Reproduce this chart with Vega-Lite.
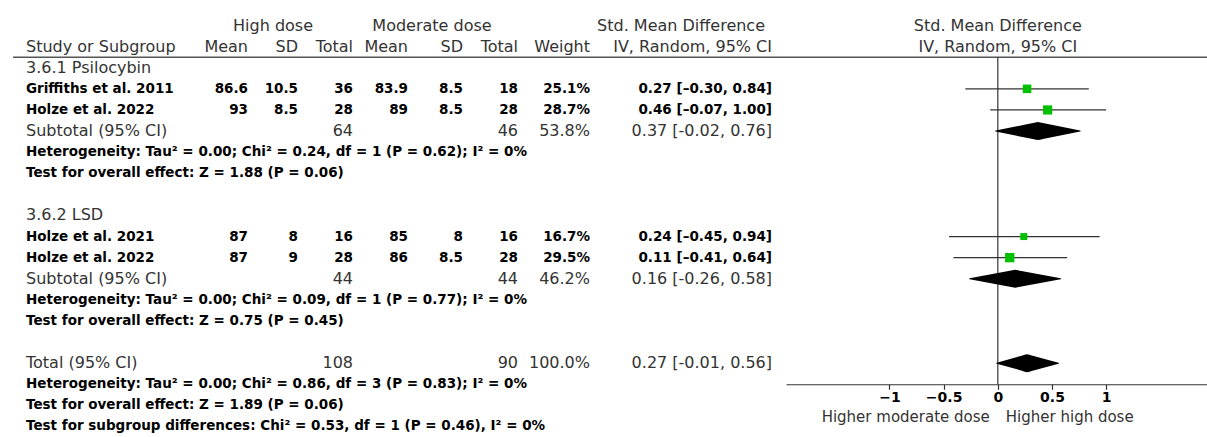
{
"$schema": "https://vega.github.io/schema/vega-lite/v6.json",
"padding": {"left": 12, "top": 15, "right": 0, "bottom": 0},
"spacing": 0,
"bounds": "flush",
"data": {"values": [
{"id":"h1","kind":"head1","hs":"High dose","ms":"Moderate dose","ci":"Std. Mean Difference","fh":"Std. Mean Difference"},
{"id":"h2","kind":"head2","study":"Study or Subgroup","hm":"Mean","hs":"SD","hn":"Total","mm":"Mean","ms":"SD","mn":"Total","w":"Weight","ci":"IV, Random, 95% CI","fh":"IV, Random, 95% CI"},
{"id":"r00","kind":"section","study":"3.6.1 Psilocybin"},
{"id":"r01","kind":"study","study":"Griffiths et al. 2011","hm":"86.6","hs":"10.5","hn":"36","mm":"83.9","ms":"8.5","mn":"18","w":"25.1%","ci":"0.27 [–0.30, 0.84]","est":0.27,"lo":-0.30,"hi":0.84,"wt":25.1},
{"id":"r02","kind":"study","study":"Holze et al. 2022","hm":"93","hs":"8.5","hn":"28","mm":"89","ms":"8.5","mn":"28","w":"28.7%","ci":"0.46 [–0.07, 1.00]","est":0.46,"lo":-0.07,"hi":1.00,"wt":28.7},
{"id":"r03","kind":"sub","study":"Subtotal (95% CI)","hn":"64","mn":"46","w":"53.8%","ci":"0.37 [-0.02, 0.76]","est":0.37,"lo":-0.02,"hi":0.76},
{"id":"r04","kind":"stat","study":"Heterogeneity: Tau² = 0.00; Chi² = 0.24, df = 1 (P = 0.62); I² = 0%"},
{"id":"r05","kind":"stat","study":"Test for overall effect: Z = 1.88 (P = 0.06)"},
{"id":"r07","kind":"section","study":"3.6.2 LSD"},
{"id":"r08","kind":"study","study":"Holze et al. 2021","hm":"87","hs":"8","hn":"16","mm":"85","ms":"8","mn":"16","w":"16.7%","ci":"0.24 [–0.45, 0.94]","est":0.24,"lo":-0.45,"hi":0.94,"wt":16.7},
{"id":"r09","kind":"study","study":"Holze et al. 2022","hm":"87","hs":"9","hn":"28","mm":"86","ms":"8.5","mn":"28","w":"29.5%","ci":"0.11 [–0.41, 0.64]","est":0.11,"lo":-0.41,"hi":0.64,"wt":29.5},
{"id":"r10","kind":"sub","study":"Subtotal (95% CI)","hn":"44","mn":"44","w":"46.2%","ci":"0.16 [-0.26, 0.58]","est":0.16,"lo":-0.26,"hi":0.58},
{"id":"r11","kind":"stat","study":"Heterogeneity: Tau² = 0.00; Chi² = 0.09, df = 1 (P = 0.77); I² = 0%"},
{"id":"r12","kind":"stat","study":"Test for overall effect: Z = 0.75 (P = 0.45)"},
{"id":"r14","kind":"sub","study":"Total (95% CI)","hn":"108","mn":"90","w":"100.0%","ci":"0.27 [-0.01, 0.56]","est":0.27,"lo":-0.01,"hi":0.56},
{"id":"r15","kind":"stat","study":"Heterogeneity: Tau² = 0.00; Chi² = 0.86, df = 3 (P = 0.83); I² = 0%"},
{"id":"r16","kind":"stat","study":"Test for overall effect: Z = 1.89 (P = 0.06)","dl":"Higher moderate dose","dr":"Higher high dose"},
{"id":"r17","kind":"stat","study":"Test for subgroup differences: Chi² = 0.53, df = 1 (P = 0.46), I² = 0%"}
]},
"hconcat": [
{"width":168,"height":422,"encoding":{"y":{"field":"id","type":"nominal","axis":null,"scale":{"domain":["h1","h2","r00","r01","r02","r03","r04","r05","r06","r07","r08","r09","r10","r11","r12","r13","r14","r15","r16","r17"],"paddingInner":0,"paddingOuter":0}}},
 "layer":[
  {"transform":[{"filter":"datum.id=='h1'"}],"mark":{"type":"rule","color":"#555","strokeWidth":1.5},"encoding":{"y":{"datum":"r00","type":"nominal","bandPosition":0}}},
  {"transform":[{"filter":"(datum.kind=='study'||datum.kind=='stat') && isValid(datum.study)"}],"mark":{"type":"text","font":"DejaVu Sans","fontWeight":"bold","fontSize":13.5,"color":"#000","align":"left","baseline":"middle","dx":13},"encoding":{"x":{"value":0},"text":{"field":"study"}}},
  {"transform":[{"filter":"(datum.kind=='head2'||datum.kind=='sub'||datum.kind=='section') && isValid(datum.study)"}],"mark":{"type":"text","font":"DejaVu Sans","fontSize":16,"color":"#333","align":"left","baseline":"middle","dx":13},"encoding":{"x":{"value":0},"text":{"field":"study"}}}
 ]},
{"width":67,"height":422,"encoding":{"y":{"field":"id","type":"nominal","axis":null,"scale":{"domain":["h1","h2","r00","r01","r02","r03","r04","r05","r06","r07","r08","r09","r10","r11","r12","r13","r14","r15","r16","r17"],"paddingInner":0,"paddingOuter":0}}},
 "layer":[
  {"transform":[{"filter":"datum.id=='h1'"}],"mark":{"type":"rule","color":"#555","strokeWidth":1.5},"encoding":{"y":{"datum":"r00","type":"nominal","bandPosition":0}}},
  {"transform":[{"filter":"(datum.kind=='study'||datum.kind=='stat') && isValid(datum.hm)"}],"mark":{"type":"text","font":"DejaVu Sans","fontWeight":"bold","fontSize":13.5,"color":"#000","align":"right","baseline":"middle"},"encoding":{"x":{"value":"width"},"text":{"field":"hm"}}},
  {"transform":[{"filter":"(datum.kind=='head2'||datum.kind=='sub'||datum.kind=='section') && isValid(datum.hm)"}],"mark":{"type":"text","font":"DejaVu Sans","fontSize":16,"color":"#333","align":"right","baseline":"middle"},"encoding":{"x":{"value":"width"},"text":{"field":"hm"}}}
 ]},
{"width":50,"height":422,"encoding":{"y":{"field":"id","type":"nominal","axis":null,"scale":{"domain":["h1","h2","r00","r01","r02","r03","r04","r05","r06","r07","r08","r09","r10","r11","r12","r13","r14","r15","r16","r17"],"paddingInner":0,"paddingOuter":0}}},
 "layer":[
  {"transform":[{"filter":"datum.id=='h1'"}],"mark":{"type":"rule","color":"#555","strokeWidth":1.5},"encoding":{"y":{"datum":"r00","type":"nominal","bandPosition":0}}},
  {"transform":[{"filter":"(datum.kind=='study'||datum.kind=='stat') && isValid(datum.hs)"}],"mark":{"type":"text","font":"DejaVu Sans","fontWeight":"bold","fontSize":13.5,"color":"#000","align":"right","baseline":"middle"},"encoding":{"x":{"value":"width"},"text":{"field":"hs"}}},
  {"transform":[{"filter":"(datum.kind=='head2'||datum.kind=='sub'||datum.kind=='section') && isValid(datum.hs)"}],"mark":{"type":"text","font":"DejaVu Sans","fontSize":16,"color":"#333","align":"right","baseline":"middle"},"encoding":{"x":{"value":"width"},"text":{"field":"hs"}}},
  {"transform":[{"filter":"datum.kind=='head1' && isValid(datum.hs)"}],"mark":{"type":"text","font":"DejaVu Sans","fontSize":16,"color":"#333","align":"center","baseline":"middle","dx":-25},"encoding":{"x":{"value":"width"},"text":{"field":"hs"}}}
 ]},
{"width":55,"height":422,"encoding":{"y":{"field":"id","type":"nominal","axis":null,"scale":{"domain":["h1","h2","r00","r01","r02","r03","r04","r05","r06","r07","r08","r09","r10","r11","r12","r13","r14","r15","r16","r17"],"paddingInner":0,"paddingOuter":0}}},
 "layer":[
  {"transform":[{"filter":"datum.id=='h1'"}],"mark":{"type":"rule","color":"#555","strokeWidth":1.5},"encoding":{"y":{"datum":"r00","type":"nominal","bandPosition":0}}},
  {"transform":[{"filter":"(datum.kind=='study'||datum.kind=='stat') && isValid(datum.hn)"}],"mark":{"type":"text","font":"DejaVu Sans","fontWeight":"bold","fontSize":13.5,"color":"#000","align":"right","baseline":"middle"},"encoding":{"x":{"value":"width"},"text":{"field":"hn"}}},
  {"transform":[{"filter":"(datum.kind=='head2'||datum.kind=='sub'||datum.kind=='section') && isValid(datum.hn)"}],"mark":{"type":"text","font":"DejaVu Sans","fontSize":16,"color":"#333","align":"right","baseline":"middle"},"encoding":{"x":{"value":"width"},"text":{"field":"hn"}}}
 ]},
{"width":55,"height":422,"encoding":{"y":{"field":"id","type":"nominal","axis":null,"scale":{"domain":["h1","h2","r00","r01","r02","r03","r04","r05","r06","r07","r08","r09","r10","r11","r12","r13","r14","r15","r16","r17"],"paddingInner":0,"paddingOuter":0}}},
 "layer":[
  {"transform":[{"filter":"datum.id=='h1'"}],"mark":{"type":"rule","color":"#555","strokeWidth":1.5},"encoding":{"y":{"datum":"r00","type":"nominal","bandPosition":0}}},
  {"transform":[{"filter":"(datum.kind=='study'||datum.kind=='stat') && isValid(datum.mm)"}],"mark":{"type":"text","font":"DejaVu Sans","fontWeight":"bold","fontSize":13.5,"color":"#000","align":"right","baseline":"middle"},"encoding":{"x":{"value":"width"},"text":{"field":"mm"}}},
  {"transform":[{"filter":"(datum.kind=='head2'||datum.kind=='sub'||datum.kind=='section') && isValid(datum.mm)"}],"mark":{"type":"text","font":"DejaVu Sans","fontSize":16,"color":"#333","align":"right","baseline":"middle"},"encoding":{"x":{"value":"width"},"text":{"field":"mm"}}}
 ]},
{"width":55,"height":422,"encoding":{"y":{"field":"id","type":"nominal","axis":null,"scale":{"domain":["h1","h2","r00","r01","r02","r03","r04","r05","r06","r07","r08","r09","r10","r11","r12","r13","r14","r15","r16","r17"],"paddingInner":0,"paddingOuter":0}}},
 "layer":[
  {"transform":[{"filter":"datum.id=='h1'"}],"mark":{"type":"rule","color":"#555","strokeWidth":1.5},"encoding":{"y":{"datum":"r00","type":"nominal","bandPosition":0}}},
  {"transform":[{"filter":"(datum.kind=='study'||datum.kind=='stat') && isValid(datum.ms)"}],"mark":{"type":"text","font":"DejaVu Sans","fontWeight":"bold","fontSize":13.5,"color":"#000","align":"right","baseline":"middle"},"encoding":{"x":{"value":"width"},"text":{"field":"ms"}}},
  {"transform":[{"filter":"(datum.kind=='head2'||datum.kind=='sub'||datum.kind=='section') && isValid(datum.ms)"}],"mark":{"type":"text","font":"DejaVu Sans","fontSize":16,"color":"#333","align":"right","baseline":"middle"},"encoding":{"x":{"value":"width"},"text":{"field":"ms"}}},
  {"transform":[{"filter":"datum.kind=='head1' && isValid(datum.ms)"}],"mark":{"type":"text","font":"DejaVu Sans","fontSize":16,"color":"#333","align":"center","baseline":"middle","dx":-31},"encoding":{"x":{"value":"width"},"text":{"field":"ms"}}}
 ]},
{"width":55,"height":422,"encoding":{"y":{"field":"id","type":"nominal","axis":null,"scale":{"domain":["h1","h2","r00","r01","r02","r03","r04","r05","r06","r07","r08","r09","r10","r11","r12","r13","r14","r15","r16","r17"],"paddingInner":0,"paddingOuter":0}}},
 "layer":[
  {"transform":[{"filter":"datum.id=='h1'"}],"mark":{"type":"rule","color":"#555","strokeWidth":1.5},"encoding":{"y":{"datum":"r00","type":"nominal","bandPosition":0}}},
  {"transform":[{"filter":"(datum.kind=='study'||datum.kind=='stat') && isValid(datum.mn)"}],"mark":{"type":"text","font":"DejaVu Sans","fontWeight":"bold","fontSize":13.5,"color":"#000","align":"right","baseline":"middle"},"encoding":{"x":{"value":"width"},"text":{"field":"mn"}}},
  {"transform":[{"filter":"(datum.kind=='head2'||datum.kind=='sub'||datum.kind=='section') && isValid(datum.mn)"}],"mark":{"type":"text","font":"DejaVu Sans","fontSize":16,"color":"#333","align":"right","baseline":"middle"},"encoding":{"x":{"value":"width"},"text":{"field":"mn"}}}
 ]},
{"width":72,"height":422,"encoding":{"y":{"field":"id","type":"nominal","axis":null,"scale":{"domain":["h1","h2","r00","r01","r02","r03","r04","r05","r06","r07","r08","r09","r10","r11","r12","r13","r14","r15","r16","r17"],"paddingInner":0,"paddingOuter":0}}},
 "layer":[
  {"transform":[{"filter":"datum.id=='h1'"}],"mark":{"type":"rule","color":"#555","strokeWidth":1.5},"encoding":{"y":{"datum":"r00","type":"nominal","bandPosition":0}}},
  {"transform":[{"filter":"(datum.kind=='study'||datum.kind=='stat') && isValid(datum.w)"}],"mark":{"type":"text","font":"DejaVu Sans","fontWeight":"bold","fontSize":13.5,"color":"#000","align":"right","baseline":"middle"},"encoding":{"x":{"value":"width"},"text":{"field":"w"}}},
  {"transform":[{"filter":"(datum.kind=='head2'||datum.kind=='sub'||datum.kind=='section') && isValid(datum.w)"}],"mark":{"type":"text","font":"DejaVu Sans","fontSize":16,"color":"#333","align":"right","baseline":"middle"},"encoding":{"x":{"value":"width"},"text":{"field":"w"}}}
 ]},
{"width":196,"height":422,"encoding":{"y":{"field":"id","type":"nominal","axis":null,"scale":{"domain":["h1","h2","r00","r01","r02","r03","r04","r05","r06","r07","r08","r09","r10","r11","r12","r13","r14","r15","r16","r17"],"paddingInner":0,"paddingOuter":0}}},
 "layer":[
  {"transform":[{"filter":"datum.id=='h1'"}],"mark":{"type":"rule","color":"#555","strokeWidth":1.5},"encoding":{"y":{"datum":"r00","type":"nominal","bandPosition":0}}},
  {"transform":[{"filter":"(datum.kind=='study'||datum.kind=='stat') && isValid(datum.ci)"}],"mark":{"type":"text","font":"DejaVu Sans","fontWeight":"bold","fontSize":13.5,"color":"#000","align":"right","baseline":"middle","dx":-14},"encoding":{"x":{"value":"width"},"text":{"field":"ci"}}},
  {"transform":[{"filter":"(datum.kind=='head2'||datum.kind=='sub'||datum.kind=='section') && isValid(datum.ci)"}],"mark":{"type":"text","font":"DejaVu Sans","fontSize":16,"color":"#333","align":"right","baseline":"middle","dx":-14},"encoding":{"x":{"value":"width"},"text":{"field":"ci"}}},
  {"transform":[{"filter":"datum.kind=='head1' && isValid(datum.ci)"}],"mark":{"type":"text","font":"DejaVu Sans","fontSize":16,"color":"#333","align":"right","baseline":"middle","dx":-21},"encoding":{"x":{"value":"width"},"text":{"field":"ci"}}}
 ]},
{"width":422,"height":422,"resolve":{"scale":{"size":"independent"}},
 "encoding":{"y":{"field":"id","type":"nominal","axis":null,"scale":{"domain":["h1","h2","r00","r01","r02","r03","r04","r05","r06","r07","r08","r09","r10","r11","r12","r13","r14","r15","r16","r17"],"paddingInner":0,"paddingOuter":0}}},
 "layer":[
  {"transform":[{"filter":"datum.id=='h1'"}],"mark":{"type":"rule","color":"#555","strokeWidth":1.5},"encoding":{"y":{"datum":"r00","type":"nominal","bandPosition":0}}},
  {"transform":[{"filter":"datum.id=='h1'"}],"mark":{"type":"rule","color":"#333","strokeWidth":1.2},"encoding":{"x":{"datum":0,"type":"quantitative","scale":{"domain":[-1.955,1.94],"nice":false,"zero":false},"axis":{"values":[-1,-0.5,0,0.5,1],"format":"~g","title":null,"offset":-52.75}},"y":{"datum":"r00","type":"nominal","bandPosition":0},"y2":{"datum":"r15","bandPosition":0.5}}},
  {"transform":[{"filter":"datum.kind=='study'"}],"mark":{"type":"rule","color":"#333","strokeWidth":1.2},"encoding":{"x":{"field":"lo","type":"quantitative","scale":{"domain":[-1.955,1.94],"nice":false,"zero":false},"axis":{"values":[-1,-0.5,0,0.5,1],"format":"~g","title":null,"offset":-52.75}},"x2":{"field":"hi"}}},
  {"transform":[{"filter":"datum.kind=='study'"}],"mark":{"type":"square","filled":true,"color":"#00c000","opacity":1},"encoding":{"x":{"field":"est","type":"quantitative","scale":{"domain":[-1.955,1.94],"nice":false,"zero":false},"axis":{"values":[-1,-0.5,0,0.5,1],"format":"~g","title":null,"offset":-52.75}},"size":{"field":"wt","type":"quantitative","scale":{"domain":[0,30],"range":[0,88]},"legend":null}}},
  {"transform":[{"filter":"datum.kind=='sub'"},{"fold":["lo","est","hi"],"as":["part","xv"]}],"mark":{"type":"trail","color":"#000"},"encoding":{"x":{"field":"xv","type":"quantitative","scale":{"domain":[-1.955,1.94],"nice":false,"zero":false},"axis":{"values":[-1,-0.5,0,0.5,1],"format":"~g","title":null,"offset":-52.75}},"detail":{"field":"id","type":"nominal"},"order":{"field":"xv","type":"quantitative"},"size":{"field":"part","type":"ordinal","scale":{"type":"ordinal","domain":["lo","est","hi"],"range":[0,18,0]},"legend":null}}},
  {"transform":[{"filter":"isValid(datum.fh)"}],"mark":{"type":"text","font":"DejaVu Sans","fontSize":16,"color":"#333","align":"center","baseline":"middle"},"encoding":{"x":{"datum":0,"type":"quantitative","scale":{"domain":[-1.955,1.94],"nice":false,"zero":false},"axis":{"values":[-1,-0.5,0,0.5,1],"format":"~g","title":null,"offset":-52.75}},"text":{"field":"fh"}}},
  {"transform":[{"filter":"isValid(datum.dl)"}],"mark":{"type":"text","font":"DejaVu Sans","fontSize":15,"color":"#333","align":"right","baseline":"middle","dx":-8,"dy":11.3},"encoding":{"x":{"datum":0,"type":"quantitative","scale":{"domain":[-1.955,1.94],"nice":false,"zero":false},"axis":{"values":[-1,-0.5,0,0.5,1],"format":"~g","title":null,"offset":-52.75}},"text":{"field":"dl"}}},
  {"transform":[{"filter":"isValid(datum.dr)"}],"mark":{"type":"text","font":"DejaVu Sans","fontSize":15,"color":"#333","align":"left","baseline":"middle","dx":8,"dy":11.3},"encoding":{"x":{"datum":0,"type":"quantitative","scale":{"domain":[-1.955,1.94],"nice":false,"zero":false},"axis":{"values":[-1,-0.5,0,0.5,1],"format":"~g","title":null,"offset":-52.75}},"text":{"field":"dr"}}}
 ]}
],
"config": {"view":{"stroke":null},"axis":{"domainColor":"#333","domainWidth":1.2,"tickColor":"#333","tickWidth":1.2,"tickSize":5,"labelFont":"DejaVu Sans","labelFontWeight":"bold","labelFontSize":14,"labelColor":"#000","labelPadding":1,"grid":false,"labelFlush":false}}
}
